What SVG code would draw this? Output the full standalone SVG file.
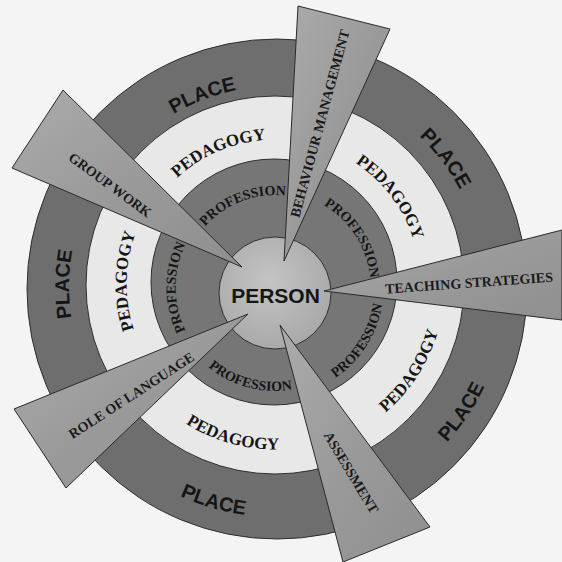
<svg xmlns="http://www.w3.org/2000/svg" width="562" height="562" viewBox="0 0 562 562">
<style>
.ring{stroke:#2e2e2e;stroke-width:1}
.place{fill:#6e6e6e}
.ped{fill:#e8e8e8}
.prof{fill:#767676}
.lp{font-family:"Liberation Sans",Arial,sans-serif;font-weight:bold;font-size:20px;fill:#151515}
.ls{font-family:"Liberation Serif","Times New Roman",serif;font-weight:bold;fill:#151515}
.ped-t{font-size:17px}
.prof-t{font-size:14px}
.w{fill:url(#wg);stroke:#2a2a2a;stroke-width:1;stroke-linejoin:miter}
.wt{font-family:"Liberation Serif","Times New Roman",serif;font-weight:bold;font-size:14px;fill:#1a1a1a}
</style>
<defs>
<linearGradient id="wg" x1="0" y1="0" x2="1" y2="1">
<stop offset="0" stop-color="#ababab"/>
<stop offset="0.5" stop-color="#9a9a9a"/>
<stop offset="1" stop-color="#8f8f8f"/>
</linearGradient>
<radialGradient id="pg" cx="0.45" cy="0.4" r="0.6">
<stop offset="0" stop-color="#c4c4c4"/>
<stop offset="1" stop-color="#a9a9a9"/>
</radialGradient>
<!-- PLACE paths -->
<path id="pl1" d="M86,221.6 A201,201 0 0 1 373.4,111.2"/>
<path id="pl2" d="M286.2,79.2 A208,208 0 0 1 478.8,333.1"/>
<path id="pl3" d="M140.7,443.7 A207,207 0 0 1 145.2,126.6"/>
<path id="pl4" d="M300.6,516.7 A231,231 0 0 0 497.9,222.9"/>
<path id="pl5" d="M65.5,379.8 A230,230 0 0 0 403.9,478.1"/>
<!-- PEDAGOGY paths -->
<path id="pe1" d="M136.8,242.3 A144.4,144.4 0 0 1 340.1,155.1"/>
<path id="pe2" d="M282.6,138.8 A145.4,145.4 0 0 1 416.7,316.7"/>
<path id="pe3" d="M177.4,395.8 A148.4,148.4 0 0 1 181.8,168.5"/>
<path id="pe4" d="M296.3,452.3 A169.6,169.6 0 0 0 437,233.8"/>
<path id="pe5" d="M124.2,352.4 A165.6,165.6 0 0 0 368.6,420.6"/>
<!-- PROFESSION paths -->
<path id="pr1" d="M183.3,272.9 A92.4,92.4 0 0 1 332.8,215.8"/>
<path id="pr2" d="M270.5,191.5 A96.1,96.1 0 0 1 359.7,332"/>
<path id="pr3" d="M225,373.1 A98.9,98.9 0 0 1 225,201.9"/>
<path id="pr4" d="M269.8,396.3 A108.9,108.9 0 0 0 371.1,237.2"/>
<path id="pr5" d="M174.6,314.3 A103.4,103.4 0 0 0 347.6,360.6"/>
</defs>
<rect width="562" height="562" fill="#f4f4f4"/>

<g id="place">
<circle class="ring place" cx="277" cy="289" r="250"/>
<text class="lp"><textPath href="#pl1" startOffset="50%" text-anchor="middle">PLACE</textPath></text>
<text class="lp"><textPath href="#pl2" startOffset="50%" text-anchor="middle">PLACE</textPath></text>
<text class="lp"><textPath href="#pl3" startOffset="50%" text-anchor="middle">PLACE</textPath></text>
<text class="lp"><textPath href="#pl4" startOffset="50%" text-anchor="middle">PLACE</textPath></text>
<text class="lp"><textPath href="#pl5" startOffset="50%" text-anchor="middle">PLACE</textPath></text>
</g>

<g id="pedagogy">
<circle class="ring ped" cx="275" cy="285" r="189"/>
<text class="ls ped-t"><textPath href="#pe1" startOffset="50%" text-anchor="middle">PEDAGOGY</textPath></text>
<text class="ls ped-t"><textPath href="#pe2" startOffset="50%" text-anchor="middle">PEDAGOGY</textPath></text>
<text class="ls ped-t"><textPath href="#pe3" startOffset="50%" text-anchor="middle">PEDAGOGY</textPath></text>
<text class="ls ped-t"><textPath href="#pe4" startOffset="50%" text-anchor="middle">PEDAGOGY</textPath></text>
<text class="ls ped-t"><textPath href="#pe5" startOffset="50%" text-anchor="middle">PEDAGOGY</textPath></text>
</g>

<g id="profession">
<circle class="ring prof" cx="274" cy="282" r="123"/>
<text class="ls prof-t"><textPath href="#pr1" startOffset="50%" text-anchor="middle">PROFESSION</textPath></text>
<text class="ls prof-t"><textPath href="#pr2" startOffset="50%" text-anchor="middle">PROFESSION</textPath></text>
<text class="ls prof-t"><textPath href="#pr3" startOffset="50%" text-anchor="middle">PROFESSION</textPath></text>
<text class="ls prof-t"><textPath href="#pr4" startOffset="50%" text-anchor="middle">PROFESSION</textPath></text>
<text class="ls prof-t"><textPath href="#pr5" startOffset="50%" text-anchor="middle">PROFESSION</textPath></text>
</g>

<g id="person">
<circle class="ring" cx="275" cy="293" r="56" fill="url(#pg)"/>
<text x="275.5" y="303" text-anchor="middle" font-family="'Liberation Sans',Arial,sans-serif" font-weight="bold" font-size="21" fill="#151515">PERSON</text>
</g>

<g id="connectors">
<g id="group-work">
<polygon class="w" points="63,90 12,168 242,267"/>
<text class="wt" transform="translate(110,185) rotate(36.4)" text-anchor="middle" dy="0.33em">GROUP WORK</text>
</g>
<g id="behaviour-management">
<polygon class="w" points="298,6 390,29 284,261"/>
<text class="wt" transform="translate(320,123.5) rotate(-74.9)" text-anchor="middle" dy="0.33em">BEHAVIOUR MANAGEMENT</text>
</g>
<g id="teaching-strategies">
<polygon class="w" points="324,291 562,230 562,320"/>
<text class="wt" transform="translate(469,283) rotate(-4.1)" text-anchor="middle" dy="0.33em">TEACHING STRATEGIES</text>
</g>
<g id="assessment">
<polygon class="w" points="280,325 430,527 343,562"/>
<text class="wt" transform="translate(351,472.5) rotate(58.9)" text-anchor="middle" dy="0.33em">ASSESSMENT</text>
</g>
<g id="role-of-language">
<polygon class="w" points="248,314 14,409 66,488"/>
<text class="wt" transform="translate(131.5,395.5) rotate(-33)" text-anchor="middle" dy="0.33em">ROLE OF LANGUAGE</text>
</g>
</g>
</svg>
